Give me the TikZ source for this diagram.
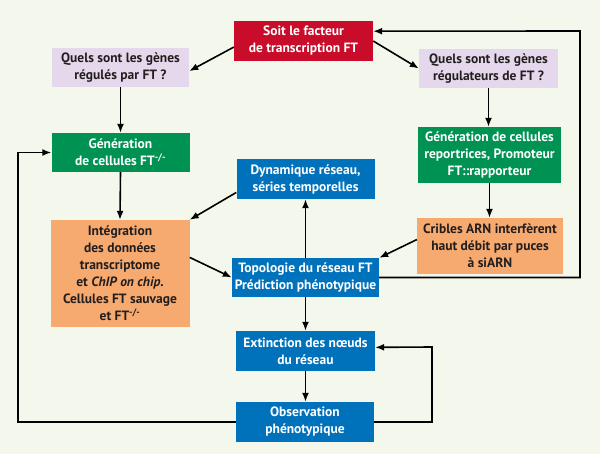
\documentclass[tikz,border=0pt]{standalone}
\usepackage{fontspec}
\setmainfont{PT Sans}
\usepackage{tikz}
\usetikzlibrary{arrows.meta,calc}
\tikzset{>={Latex[length=9pt,width=7pt]}}
\definecolor{fond}{RGB}{244,247,236}
\definecolor{rouge}{RGB}{200,12,42}
\definecolor{lilas}{RGB}{230,216,236}
\definecolor{vert}{RGB}{0,146,82}
\definecolor{bleu}{RGB}{0,114,188}
\definecolor{orange}{RGB}{246,170,112}
\definecolor{encre}{RGB}{35,30,30}
\tikzstyle{boite}=[rectangle,inner sep=0pt,align=center,font=\fontsize{13.5}{17}\selectfont\bfseries]
\tikzstyle{facteur}=[boite,fill=rouge,text=white]
\tikzstyle{question}=[boite,fill=lilas,text=encre]
\tikzstyle{generation}=[boite,fill=vert,text=white]
\tikzstyle{donnees}=[boite,fill=orange,text=encre]
\tikzstyle{reseau}=[boite,fill=bleu,text=white]
\tikzstyle{fleche}=[->,line width=1.6pt,black]

\begin{document}
\begin{tikzpicture}[x=1pt,y=-1pt]
	\fill[fond] (0,0) rectangle (600,454);

	\node[facteur,minimum width=139,minimum height=40] (fact) at (303.5,41) {Soit le facteur\\de transcription FT};

	\node[question,minimum width=137,minimum height=39] (q1) at (120.5,67.5) {Quels sont les gènes\\régulés par FT ?};
	\node[question,minimum width=139,minimum height=39] (q2) at (488.5,68.5) {Quels sont les gènes\\régulateurs de FT ?};

	\node[generation,minimum width=138,minimum height=39] (gen1) at (120.5,152.5) {Génération\\de cellules FT\textsuperscript{-/-}};
	\node[generation,minimum width=143,minimum height=56] (gen2) at (489.5,155) {Génération de cellules\\reportrices, Promoteur\\FT::rapporteur};

	\node[donnees,minimum width=139,minimum height=107] (integ) at (120,273.5) {Intégration\\des données\\transcriptome\\et \textit{ChIP on chip}.\\Cellules FT sauvage\\et FT\textsuperscript{-/-}};
	\node[donnees,minimum width=146,minimum height=56] (crib) at (490,246) {Cribles ARN interfèrent\\haut débit par puces\\à siARN};

	\node[reseau,minimum width=138,minimum height=40] (dyn) at (305.5,179) {Dynamique réseau,\\séries temporelles};
	\node[reseau,minimum width=147,minimum height=39] (topo) at (305.5,277.5) {Topologie du réseau FT\\Prédiction phénotypique};
	\node[reseau,minimum width=139,minimum height=40] (ext) at (305.5,351) {Extinction des nœuds\\du réseau};
	\node[reseau,minimum width=138,minimum height=40] (obs) at (305,422) {Observation\\phénotypique};

	\coordinate (boucleD) at (580,31);
	\coordinate (boucleE) at (432,347);
	\coordinate (boucleG) at (18,152.5);

	\draw[fleche] (fact.185) -- (q1.357);
	\draw[fleche] (fact.east) -- (q2.west);
	\draw[fleche] (q1.south) -- (gen1.north);
	\draw[fleche] (q2.south) -- (q2.south |- gen2.north);
	\draw[fleche] (gen1.south) -- (integ.north);
	\draw[fleche] (gen2.south) -- (gen2.south |- crib.north);
	\draw[fleche] (dyn.191) -- (integ.north east);
	\draw[fleche] (integ.13) -- (topo.west);
	\draw[fleche] (topo.north) -- (dyn.south);
	\draw[fleche] (crib.175) -- (topo.north east);
	\draw[fleche] (topo.east) -| (boucleD) -- (fact.8);
	\draw[fleche] (topo.south) -- (ext.north);
	\draw[fleche] (ext.south) -- (ext.south |- obs.north);
	\draw[fleche] (obs.east) -| (boucleE) -- (ext.3);
	\draw[fleche] (obs.west) -| (boucleG) -- (gen1.west);
\end{tikzpicture}
\end{document}
